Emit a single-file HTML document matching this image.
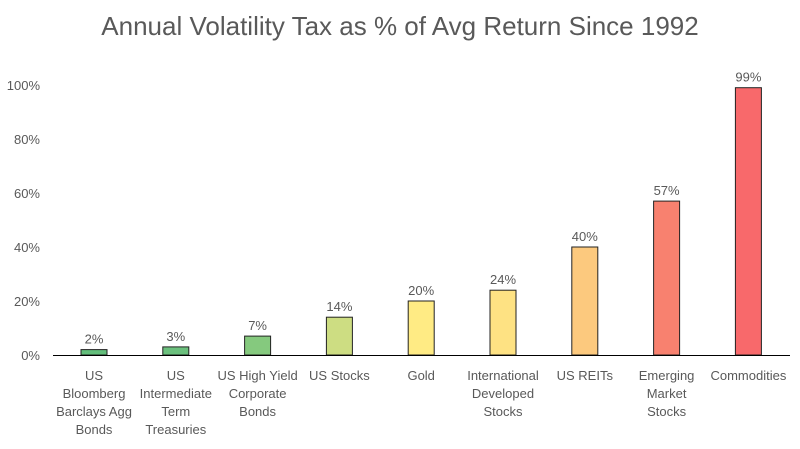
<!DOCTYPE html>
<html><head><meta charset="utf-8"><style>
body{margin:0;background:#fff}
svg text{font-family:"Liberation Sans",sans-serif;fill:#595959}
</style></head><body>
<svg width="800" height="444">
<text x="400" y="35" text-anchor="middle" font-size="26">Annual Volatility Tax as % of Avg Return Since 1992</text>
<g id="yaxis"></g><g id="bars"></g><g id="xlabels"></g>
<line x1="53" x2="790" y1="355.5" y2="355.5" stroke="#000" stroke-width="1"/>
</svg>
<script>
const categories=[["US","Bloomberg","Barclays Agg","Bonds"],["US","Intermediate","Term","Treasuries"],["US High Yield","Corporate","Bonds"],["US Stocks"],["Gold"],["International","Developed","Stocks"],["US REITs"],["Emerging","Market","Stocks"],["Commodities"]];
const values=[2,3,7,14,20,24,40,57,99];
const valueLabels=["2%","3%","7%","14%","20%","24%","40%","57%","99%"];
const colors=["#63be7b","#6bc07d","#85c97e","#cddd82","#ffeb84","#fee283","#fcc97e","#f8816f","#f8696b"];
const yTicks=[0,20,40,60,80,100];
const NS="http://www.w3.org/2000/svg";
const y0=355,pxPer=2.7;
const yScale=v=>y0-v*pxPer;
const xScale=i=>94+i*81.8;
function mk(tag,attrs,parent,text){const e=document.createElementNS(NS,tag);for(const k in attrs)e.setAttribute(k,attrs[k]);if(text!==undefined)e.textContent=text;parent.appendChild(e);return e;}
const ya=document.getElementById('yaxis'),bg=document.getElementById('bars'),xl=document.getElementById('xlabels');
yTicks.forEach(t=>{const e=mk('text',{x:40,y:yScale(t)+5,'text-anchor':'end','font-size':13},ya,t+'%');

});
values.forEach((v,i)=>{const cx=xScale(i);
const r=mk('rect',{x:cx-13,y:yScale(v),width:26,height:v*pxPer,fill:colors[i],stroke:'#222','stroke-width':1},bg);


const t=mk('text',{x:cx,y:yScale(v)-6,'text-anchor':'middle','font-size':13},bg,valueLabels[i]);


const lab=mk('text',{x:cx,y:380,'text-anchor':'middle','font-size':13},xl);


categories[i].forEach((s,j)=>{mk('tspan',{x:cx,dy:j?18:0},lab,s);});
});
</script>
</body></html>
